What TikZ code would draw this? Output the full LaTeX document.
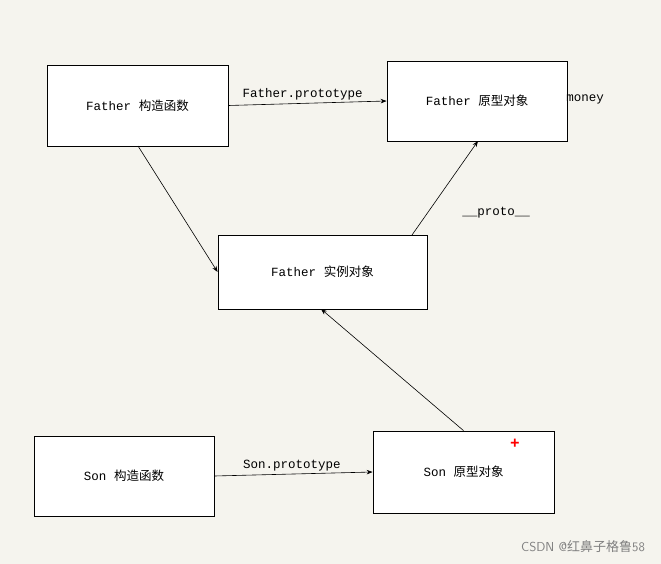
\documentclass[tikz,border=0pt]{standalone}
\usepackage{fontspec}
\setmainfont{Liberation Mono}
\newfontfamily\cjk{Noto Sans CJK SC}
\usetikzlibrary{arrows.meta}
\definecolor{bg}{HTML}{F5F4EE}
\tikzset{box/.style={draw=black,fill=white,line width=0.8pt,inner sep=0pt,font=\fontsize{12.5}{14}\selectfont},
arr/.style={-{Stealth[length=6pt,width=4.5pt]},line width=0.6pt},
lbl/.style={font=\fontsize{12.5}{14}\selectfont,inner sep=1pt}}
\begin{document}
\begin{tikzpicture}[x=1pt,y=-1pt]
\fill[bg] (0,0) rectangle (661,564);
\useasboundingbox (0,0) rectangle (661,564);
\node[box,minimum width=181pt,minimum height=81pt] (fc) at (137.5,105.5) {Father {\cjk 构造函数}};
\node[box,minimum width=180pt,minimum height=80pt] (fp) at (477,101) {Father {\cjk 原型对象}};
\node[box,minimum width=209pt,minimum height=74pt] (fi) at (322.5,272) {Father {\cjk 实例对象}};
\node[box,minimum width=180pt,minimum height=80pt] (sc) at (124,476) {Son {\cjk 构造函数}};
\node[box,minimum width=181pt,minimum height=82pt] (sp) at (463.5,472) {Son {\cjk 原型对象}};
\node[lbl] (money) at (585,99) {money};
\node[text=red,font=\bfseries\fontsize{16}{16}\selectfont,inner sep=0pt] (plus) at (515,444) {+};
\draw[arr] (fc.east) -- node[lbl,above=2pt,pos=0.47] {Father.prototype} (fp.west);
\draw[arr] (138,146) -- (fi.west);
\draw[arr] (412,235) -- (478,141);
\node[lbl] (proto) at (496,213) {\_\_proto\_\_};
\draw[arr] (sp.north) -- (321,309);
\draw[arr] (sc.east) -- node[lbl,above=2pt,pos=0.49] {Son.prototype} (sp.west);
\node[font=\sffamily\fontsize{13}{14}\selectfont,text=gray] (wm) at (583,547) {CSDN @{\cjk 红鼻子格鲁}58};
\end{tikzpicture}
\end{document}
